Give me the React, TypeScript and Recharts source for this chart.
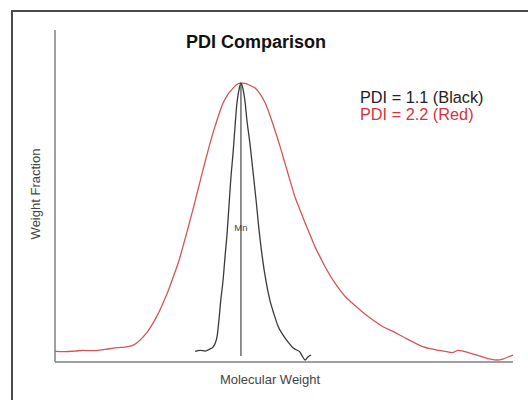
import { Line, LineChart, ReferenceLine, XAxis, YAxis } from "recharts";

// molecular weight (arbitrary units, 0-100) and weight fraction
const redMW = [
  0, 2.2, 4.4, 6.1, 8.7, 10.9, 13.5, 15.3, 17.0, 18.1, 19.2, 20.3, 21.4, 22.5, 23.6, 24.7, 25.8,
  26.9, 27.9, 29.0, 30.1, 31.2, 32.3, 33.4, 34.5, 35.6, 36.7, 37.8, 38.9, 39.7, 40.6, 41.5, 42.6,
  43.7, 44.8, 45.9, 46.9, 48.0, 49.1, 50.2, 51.3, 52.4, 53.5, 54.6, 55.7, 56.8, 57.9, 59.0, 60.0,
  61.1, 62.2, 63.3, 64.4, 65.5, 67.0, 68.3, 69.9, 71.6, 73.8, 76.0, 78.2, 80.3, 81.9, 83.4, 85.2,
  86.7, 88.0, 89.1, 90.6, 92.8, 95.0, 96.5, 97.8, 98.9, 100,
];
const redWF = [
  0.032, 0.031, 0.033, 0.035, 0.034, 0.038, 0.043, 0.045, 0.05, 0.06, 0.075, 0.093, 0.117, 0.145,
  0.178, 0.214, 0.256, 0.298, 0.346, 0.401, 0.458, 0.518, 0.578, 0.636, 0.69, 0.738, 0.78, 0.807,
  0.825, 0.836, 0.84, 0.839, 0.833, 0.825, 0.807, 0.78, 0.744, 0.699, 0.651, 0.599, 0.548, 0.497,
  0.458, 0.419, 0.383, 0.346, 0.316, 0.286, 0.262, 0.238, 0.217, 0.198, 0.184, 0.17, 0.152, 0.138,
  0.122, 0.106, 0.092, 0.076, 0.06, 0.046, 0.04, 0.036, 0.032, 0.028, 0.035, 0.033, 0.027, 0.018,
  0.009, 0.006, 0.009, 0.015, 0.021,
];

const blackMW = [
  30.6, 31.7, 32.8, 33.8, 34.5, 34.9, 35.4, 35.8, 36.2, 36.7, 37.1, 37.6, 38.0, 38.4, 38.9, 39.3,
  39.7, 40.2, 40.6, 41.0, 41.5, 41.9, 42.6, 43.2, 43.9, 44.5, 45.2, 46.1, 46.9, 47.8, 48.7, 49.8,
  50.9, 52.0, 52.8, 53.5, 54.1, 54.6, 55.2, 55.9,
];
const blackWF = [
  0.032, 0.035, 0.033, 0.039, 0.045, 0.054, 0.078, 0.127, 0.187, 0.247, 0.313, 0.392, 0.473, 0.554,
  0.633, 0.708, 0.777, 0.822, 0.84, 0.825, 0.783, 0.729, 0.654, 0.578, 0.488, 0.404, 0.322, 0.241,
  0.187, 0.145, 0.108, 0.081, 0.06, 0.042, 0.036, 0.03, 0.015, 0.006, 0.015, 0.021,
];

const mn = 40.6;
const mnTop = 0.84;
const mnBottom = 0.018;

const redData = redMW.map((x, i) => ({ x, y: redWF[i] }));
const blackData = blackMW.map((x, i) => ({ x, y: blackWF[i] }));

const font = "'Liberation Sans', Arial, sans-serif";

export default function App() {
  return (
    <div
      style={{
        position: "fixed",
        left: 0,
        top: 0,
        width: 528,
        height: 400,
        overflow: "hidden",
        background: "#fff",
        fontFamily: font,
      }}
    >
      <div
        style={{
          position: "absolute",
          left: 11,
          top: 10,
          width: 700,
          height: 600,
          borderLeft: "2px solid #4a4a4a",
          borderTop: "2px solid #4a4a4a",
        }}
      />
      <LineChart
        width={528}
        height={400}
        margin={{ top: 30, right: 15, bottom: 0, left: 0 }}
        style={{ position: "absolute", left: 0, top: 0 }}
      >
        <XAxis
          type="number"
          dataKey="x"
          domain={[0, 100]}
          height={38}
          tick={false}
          tickLine={false}
          axisLine={{ stroke: "#7f7f7f", strokeWidth: 1.5 }}
        />
        <YAxis
          type="number"
          domain={[0, 1]}
          width={55}
          tick={false}
          tickLine={false}
          axisLine={{ stroke: "#7f7f7f", strokeWidth: 1.5 }}
        />
        <ReferenceLine
          segment={[
            { x: mn, y: mnBottom },
            { x: mn, y: mnTop },
          ]}
          stroke="#555"
          strokeWidth={1.3}
          label={{ value: "Mn", position: "center", dy: 8, fontSize: 9.5, fill: "#444", fontFamily: font }}
        />
        <Line
          data={redData}
          dataKey="y"
          type="monotone"
          stroke="#d25656"
          strokeWidth={1.3}
          dot={false}
          isAnimationActive={false}
        />
        <Line
          data={blackData}
          dataKey="y"
          type="monotone"
          stroke="#3a3a3a"
          strokeWidth={1.3}
          dot={false}
          isAnimationActive={false}
        />
        <text x={256} y={48} textAnchor="middle" fontSize={18} fontWeight="bold" fill="#111" fontFamily={font}>
          PDI Comparison
        </text>
        <text x={360} y={102.5} fontSize={16.3} fill="#222" fontFamily={font}>
          PDI = 1.1 (Black)
        </text>
        <text x={360} y={119.5} fontSize={16.3} fill="#d9333d" fontFamily={font}>
          PDI = 2.2 (Red)
        </text>
        <text x={270} y={384} textAnchor="middle" fontSize={13} fill="#444" fontFamily={font}>
          Molecular Weight
        </text>
        <text
          x={35.5}
          y={194}
          textAnchor="middle"
          dominantBaseline="central"
          transform="rotate(-90 35.5 194)"
          fontSize={13}
          fill="#444"
          fontFamily={font}
        >
          Weight Fraction
        </text>
      </LineChart>
    </div>
  );
}
